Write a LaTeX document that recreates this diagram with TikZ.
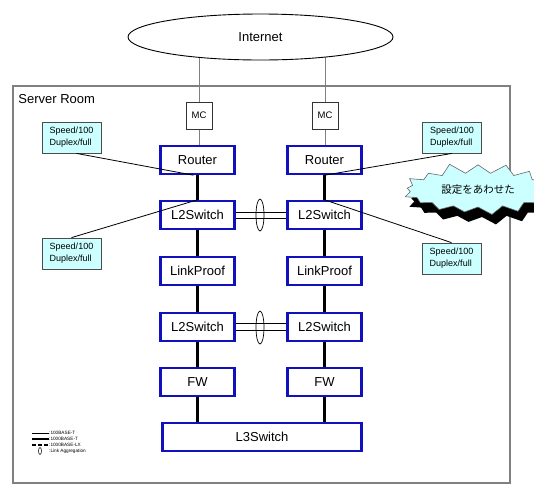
\documentclass[tikz,border=0pt]{standalone}
\usepackage{fontspec}
\setmainfont{Liberation Sans}
\newfontfamily\jpfont{Noto Sans CJK JP}
\usetikzlibrary{shapes.geometric, shapes.symbols, shadows, backgrounds}
\definecolor{devblue}{RGB}{16,16,190}
\definecolor{notecyan}{RGB}{204,255,255}
\definecolor{roomgray}{RGB}{128,128,128}

\begin{document}
\begin{tikzpicture}[
        x = 1pt, y = -1pt,
        line width = 0.8pt,
        dev/.style = {draw = devblue, line width = 2.4pt, fill = white, minimum width = 74pt, minimum height = 28pt, inner sep = 0pt, font = \fontsize{13}{13}\selectfont},
        mc/.style = {draw = black!80, line width = 1pt, fill = white, minimum width = 26pt, minimum height = 27pt, inner sep = 0pt, font = \fontsize{9.5}{9.5}\selectfont},
        note/.style = {draw = black!70, fill = notecyan, line width = 0.8pt, minimum width = 59pt, minimum height = 31pt, inner sep = 0pt, align = left, font = \fontsize{9}{12}\selectfont},
        burst/.style = {starburst, starburst points = 17, starburst point height = 11pt, random starburst = 11, fill = notecyan, draw = black!60, line width = 0.6pt, minimum width = 158pt, minimum height = 56pt, inner sep = 0pt, drop shadow = {shadow xshift = 4pt, shadow yshift = -10pt, fill = black, opacity = 1}, font = \jpfont\fontsize{10.5}{10.5}\selectfont},
        gig/.style = {line width = 3pt},
        fast/.style = {line width = 0.8pt},
        feed/.style = {draw = roomgray, line width = 0.9pt},
        legend/.style = {anchor = west, inner sep = 0pt, font = \fontsize{4.7}{5}\selectfont}
    ]
    \useasboundingbox (0,0) rectangle (534,491);

    % server room
    \draw[roomgray, line width = 1.2pt] (13,86) rectangle (510,483);
    \node[anchor = west, inner sep = 0pt, font = \fontsize{13}{13}\selectfont] (room) at (18,99) {Server Room};

    % internet and media converters
    \node[ellipse, draw, fill = white, line width = 0.9pt, minimum width = 265pt, minimum height = 46pt, inner sep = 0pt, font = \fontsize{13}{13}\selectfont] (inet) at (260.5,37) {Internet};
    \node[mc] (mcL) at (199,115.5) {MC};
    \node[mc] (mcR) at (325,115.5) {MC};

    % left column
    \node[dev] (routerL) at (197.5,160) {Router};
    \node[dev] (l2aL) at (197.5,215) {L2Switch};
    \node[dev] (lpL) at (197.5,271) {LinkProof};
    \node[dev] (l2bL) at (197.5,327) {L2Switch};
    \node[dev] (fwL) at (197.5,382) {FW};

    % right column
    \node[dev] (routerR) at (324.5,160) {Router};
    \node[dev] (l2aR) at (324.5,215) {L2Switch};
    \node[dev] (lpR) at (324.5,271) {LinkProof};
    \node[dev] (l2bR) at (324.5,327) {L2Switch};
    \node[dev] (fwR) at (324.5,382) {FW};

    \node[dev, minimum width = 199pt] (l3) at (262,437) {L3Switch};

    \begin{pgfonlayer}{background}
        \draw[feed] (mcL.north) -- (mcL.north |- inet.center);
        \draw[feed] (mcR.north) -- (mcR.north |- inet.center);
    \end{pgfonlayer}
    \draw[feed] (mcL) -- (mcL |- routerL.north);
    \draw[feed] (mcR) -- (mcR |- routerR.north);

    % gigabit links
    \draw[gig] (routerL) -- (l2aL);
    \draw[gig] (l2aL) -- (lpL);
    \draw[gig] (lpL) -- (l2bL);
    \draw[gig] (l2bL) -- (fwL);
    \draw[gig] (fwL) -- (fwL |- l3.north);
    \draw[gig] (routerR) -- (l2aR);
    \draw[gig] (l2aR) -- (lpR);
    \draw[gig] (lpR) -- (l2bR);
    \draw[gig] (l2bR) -- (fwR);
    \draw[gig] (fwR) -- (fwR |- l3.north);

    % link aggregation
    \draw[fast] ([yshift = 3pt]l2aL.east) -- ([yshift = 3pt]l2aL.east -| l2aR.west);
    \draw[fast] ([yshift = -3pt]l2aL.east) -- ([yshift = -3pt]l2aL.east -| l2aR.west);
    \node[ellipse, draw, line width = 0.7pt, minimum width = 8pt, minimum height = 32pt, inner sep = 0pt] (lagA) at (260,215) {};
    \draw[fast] ([yshift = 3.5pt]l2bL.east) -- ([yshift = 3.5pt]l2bL.east -| l2bR.west);
    \draw[fast] ([yshift = -3.5pt]l2bL.east) -- ([yshift = -3.5pt]l2bL.east -| l2bR.west);
    \node[ellipse, draw, line width = 0.7pt, minimum width = 8pt, minimum height = 33pt, inner sep = 0pt] (lagB) at (260,327.5) {};

    % speed notes
    \node[note] (noteA) at (71.5,137.5) {Speed/100\\Duplex/full};
    \node[note] (noteB) at (71.5,253.5) {Speed/100\\Duplex/full};
    \node[note] (noteC) at (452,137.5) {Speed/100\\Duplex/full};
    \node[note] (noteD) at (451.5,258.5) {Speed/100\\Duplex/full};
    \draw[fast] ([xshift = 5pt]noteA.south) -- ([xshift = -4pt]routerL.south);
    \draw[fast] (noteB.north) -- (l2aL.north);
    \draw[fast] (noteC.south) -- (routerR.south);
    \draw[fast] (noteD.north) -- (l2aR.north);

    \node[burst] (sync) at (478,190) {設定をあわせた};

    % legend
    \node[legend] (lgA) at (49,433) {:100BASE-T};
    \node[legend] (lgB) at (49,439) {:1000BASE-T};
    \node[legend] (lgC) at (49,445) {:1000BASE-LX};
    \node[legend] (lgD) at (49,451) {:Link Aggregation};
    \draw[line width = 0.6pt] ([xshift = -17pt]lgA.west) -- (lgA.west);
    \draw[line width = 2pt] ([xshift = -17pt]lgB.west) -- (lgB.west);
    \draw[line width = 2pt, dash pattern = on 4pt off 2pt] ([xshift = -17pt]lgC.west) -- (lgC.west);
    \node[ellipse, draw, line width = 0.5pt, minimum width = 3pt, minimum height = 7pt, inner sep = 0pt] (lgE) at (40,451) {};
\end{tikzpicture}
\end{document}
